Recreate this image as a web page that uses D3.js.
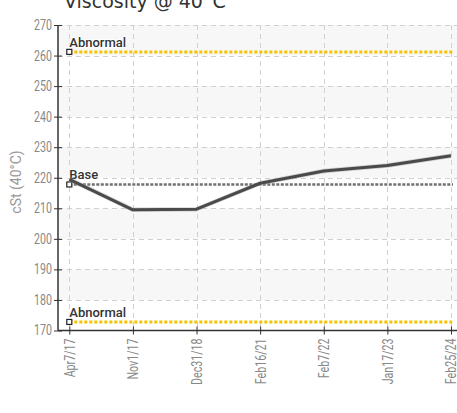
<!DOCTYPE html>
<html lang="en">
<head>
<meta charset="UTF-8">
<script src="https://d3js.org/d3.v7.min.js"></script>
<style>
  body { margin: 0; background: #fff; }
  svg { display: block; }
  .tick text { font-family: 'Roboto', sans-serif; font-size: 14px; fill: #888; }
</style>
</head>
<body>
<svg id="chart" width="457" height="413"></svg>
<script>
// ---- data ----
const dates = ["Apr7/17", "Nov1/17", "Dec31/18", "Feb16/21", "Feb7/22", "Jan17/23", "Feb25/24"];
const viscosity = [219.5, 209.5, 209.7, 218.2, 222.2, 224, 227.2];
const yTicks = [170, 180, 190, 200, 210, 220, 230, 240, 250, 260, 270];
const refNames = ["Abnormal", "Base", "Abnormal"];
const refValues = [261.2, 217.8, 172.8];
const refKinds = ["limit", "base", "limit"];

// ---- layout ----
const W = 457, H = 413;
const plotLeft = 58, plotTop = 25, plotBottom = 330.5;
const narrow = 0.76; // horizontal squeeze to mimic the condensed tick font

const svg = d3.select("#chart");

const x = d3.scalePoint().domain(dates).range([69.3, 451]);
const y = d3.scaleLinear().domain([170, 270]).range([plotBottom, plotTop]);

// alternating bands
const bands = d3.range(0, yTicks.length - 1, 2).map(i => [yTicks[yTicks.length - 1 - i], yTicks[yTicks.length - 2 - i]]);
svg.append("g").selectAll("rect").data(bands).join("rect")
    .attr("x", plotLeft).attr("width", W - plotLeft)
    .attr("y", d => y(d[0])).attr("height", d => y(d[1]) - y(d[0]))
    .attr("fill", "#f7f7f7");

// grid
const grid = svg.append("g").attr("stroke", "#d0d0d0").attr("stroke-dasharray", "5,4").attr("stroke-width", 1);
grid.selectAll("line.h").data(yTicks.slice(1)).join("line")
    .attr("class", "h")
    .attr("x1", plotLeft).attr("x2", W)
    .attr("y1", d => Math.round(y(d)) + 0.5).attr("y2", d => Math.round(y(d)) + 0.5);
grid.selectAll("line.v").data(dates).join("line")
    .attr("class", "v")
    .attr("x1", d => Math.round(x(d)) + 0.5).attr("x2", d => Math.round(x(d)) + 0.5)
    .attr("y1", plotTop).attr("y2", plotBottom);

// y axis
const yAxis = svg.append("g")
    .attr("transform", `translate(${plotLeft},0)`)
    .call(d3.axisLeft(y).tickValues(yTicks).tickSize(4).tickPadding(4));
yAxis.select(".domain").attr("stroke", "#333").attr("stroke-width", 1.5).attr("d", `M0,${plotTop}V${plotBottom}`);
yAxis.selectAll(".tick line").attr("stroke", "#333").attr("x1", 4).attr("x2", -4);
yAxis.selectAll(".tick text")
    .attr("x", -6 / narrow)
    .attr("transform", `scale(${narrow},1)`);

// x axis
const xAxis = svg.append("g")
    .attr("transform", `translate(0,${plotBottom})`)
    .call(d3.axisBottom(x).tickSize(4).tickPadding(6));
xAxis.select(".domain").attr("stroke", "#333").attr("stroke-width", 1.5).attr("d", `M${plotLeft},0H${W}`);
xAxis.selectAll(".tick line").attr("stroke", "#333").attr("y1", -4).attr("y2", 4);
xAxis.selectAll(".tick text")
    .attr("transform", `rotate(-90) scale(${narrow},1)`)
    .attr("text-anchor", "end")
    .attr("x", -8 / narrow).attr("y", 0).attr("dy", "0.35em");

// y axis title
svg.append("text")
    .attr("transform", `translate(21,182) rotate(-90)`)
    .attr("text-anchor", "middle")
    .attr("font-family", "Roboto, sans-serif")
    .attr("font-size", 14).attr("fill", "#999")
    .text("cSt (40°C)");

// chart title
svg.append("text")
    .attr("x", 64).attr("y", 8)
    .attr("font-family", "'DejaVu Sans', sans-serif")
    .attr("font-size", 19).attr("fill", "#333")
    .text("Viscosity @ 40°C");

// reference lines
const refs = refNames.map((n, i) => ({ name: n, value: refValues[i], kind: refKinds[i] }));
const refG = svg.append("g");
refG.selectAll("line").data(refs).join("line")
    .attr("x1", x(dates[0])).attr("x2", W - 4)
    .attr("y1", d => y(d.value)).attr("y2", d => y(d.value))
    .attr("stroke", d => d.kind === "limit" ? "#f5c400" : "#707070")
    .attr("stroke-width", d => d.kind === "limit" ? 3 : 2.5)
    .attr("stroke-dasharray", d => d.kind === "limit" ? "3,2" : "3,1.5");

// data line
const line = d3.line().x((d, i) => x(dates[i])).y(d => y(d));
svg.append("path").datum(viscosity)
    .attr("fill", "none").attr("stroke", "#aaa").attr("stroke-width", 4.5)
    .attr("stroke-linejoin", "round").attr("opacity", 0.5)
    .attr("d", line);
svg.append("path").datum(viscosity)
    .attr("fill", "none").attr("stroke", "#4a4a4a").attr("stroke-width", 3)
    .attr("stroke-linejoin", "round")
    .attr("d", line);

// reference markers and labels
refG.selectAll("rect").data(refs).join("rect")
    .attr("x", x(dates[0]) - 2.5).attr("y", d => y(d.value) - 2.5)
    .attr("width", 5).attr("height", 5)
    .attr("fill", "#fff").attr("stroke", "#222").attr("stroke-width", 1.2);
refG.selectAll("text").data(refs).join("text")
    .attr("x", x(dates[0])).attr("y", d => y(d.value) - 5)
    .attr("font-family", "Roboto, sans-serif")
    .attr("font-size", 13).attr("font-weight", 500).attr("fill", "#333")
    .attr("stroke", "#fff").attr("stroke-width", 2).attr("paint-order", "stroke")
    .text(d => d.name);
</script>
</body>
</html>
